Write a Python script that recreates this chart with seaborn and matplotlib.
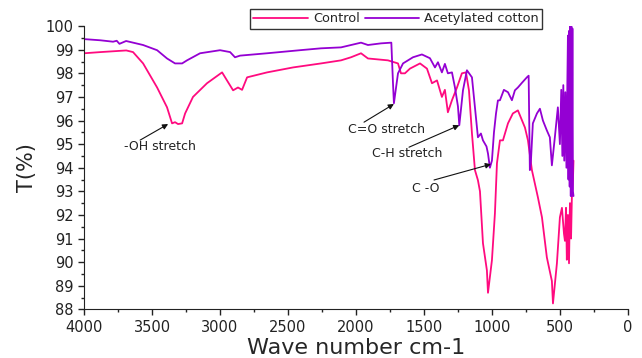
"""
plot.py

FTIR spectra of control and acetylated cotton.
"""

import numpy as np
import pandas as pd
import seaborn as sns
import matplotlib.pyplot as plt
from matplotlib.ticker import MultipleLocator


CONTROL_WN = [4000, 3880, 3690, 3640, 3566, 3463, 3390, 3353, 3331, 3309, 3279,
              3257, 3199, 3096, 2985, 2949, 2904, 2868, 2838, 2801, 2654, 2463,
              2257, 2110, 2037, 1963, 1912, 1765, 1691, 1669, 1640, 1603, 1529,
              1478, 1441, 1404, 1368, 1346, 1324, 1294, 1257, 1221, 1191, 1169,
              1147, 1125, 1103, 1088, 1066, 1037, 1029, 1000, 978, 963, 941, 919,
              882, 846, 809, 757, 735, 706, 662, 632, 596, 559, 551, 522, 500,
              485, 470, 463, 455, 449, 441, 433, 426, 418, 412, 404, 400]
CONTROL_T = [98.85, 98.9, 98.97, 98.9, 98.42, 97.4, 96.56, 95.88, 95.93, 95.85,
             95.88, 96.3, 97.0, 97.58, 98.04, 97.7, 97.28, 97.4, 97.3, 97.83,
             98.04, 98.25, 98.42, 98.55, 98.68, 98.85, 98.63, 98.55, 98.42, 98.0,
             98.0, 98.2, 98.42, 98.2, 97.58, 97.7, 97.0, 97.3, 96.35, 96.86,
             97.4, 98.0, 98.04, 97.28, 95.46, 93.9, 93.47, 93.0, 90.8, 89.65,
             88.7, 90.08, 92.07, 94.19, 95.16, 95.16, 95.88, 96.3, 96.43, 95.7,
             95.16, 93.9, 92.75, 91.9, 90.2, 89.2, 88.25, 89.95, 91.9, 92.3,
             91.2, 90.9, 92.3, 90.1, 92.0, 89.95, 92.5, 91.0, 92.75, 93.5, 94.3]

ACETYL_WN = [4000, 3880, 3787, 3760, 3740, 3691, 3566, 3463, 3390, 3331, 3279,
             3243, 3147, 3000, 2926, 2890, 2853, 2654, 2412, 2257, 2110, 1963,
             1912, 1816, 1740, 1728, 1721, 1710, 1691, 1654, 1581, 1515, 1456,
             1419, 1397, 1368, 1346, 1324, 1294, 1272, 1250, 1240, 1213, 1184,
             1147, 1125, 1103, 1081, 1066, 1040, 1029, 1015, 1000, 985, 970,
             956, 941, 912, 882, 853, 831, 809, 779, 743, 730, 721, 713, 699,
             669, 647, 625, 596, 574, 559, 537, 515, 500, 490, 482, 475, 468,
             460, 452, 445, 441, 437, 432, 428, 424, 420, 416, 412, 408, 404,
             400]
ACETYL_T = [99.45, 99.4, 99.34, 99.38, 99.25, 99.37, 99.2, 98.98, 98.63, 98.42,
            98.42, 98.55, 98.85, 98.98, 98.9, 98.68, 98.75, 98.85, 98.98, 99.06,
            99.1, 99.3, 99.2, 99.27, 99.3, 97.6, 96.73, 97.2, 98.0, 98.42, 98.68,
            98.8, 98.64, 98.25, 98.47, 98.04, 98.4, 98.0, 98.04, 97.4, 96.6,
            95.8, 97.28, 98.13, 97.83, 96.56, 95.29, 95.45, 95.16, 94.9, 94.6,
            94.0, 94.3, 95.5, 96.3, 96.85, 96.86, 97.3, 97.2, 96.86, 97.28, 97.4,
            97.6, 97.83, 97.9, 93.9, 94.3, 95.88, 96.3, 96.5, 96.0, 95.58, 95.29,
            94.1, 95.3, 96.56, 95.0, 97.3, 94.5, 97.5, 94.3, 97.2, 94.0, 97.7,
            99.6, 93.5, 99.8, 93.2, 100.0, 92.8, 100.0, 92.8, 99.9, 93.0, 92.8]

SAMPLES = ["Control", "Acetylated cotton"]
COLORS = {"Control": "#ff0a7f", "Acetylated cotton": "#9400d3"}

# (label, text centre, arrow tail, arrow tip)
ANNOTATIONS = [
    ("-OH stretch", (3441, 94.88), (3588, 95.17), (3382, 95.85)),
    ("C=O stretch", (1779, 95.6), (1941, 95.93), (1721, 96.7)),
    ("C-H stretch", (1625, 94.62), (1610, 94.87), (1240, 95.8)),
    ("C -O", (1485, 93.1), (1426, 93.48), (1007, 94.15)),
]


def main():
    df = pd.concat([
        pd.DataFrame({"wn": CONTROL_WN, "T": CONTROL_T, "sample": "Control"}),
        pd.DataFrame({"wn": ACETYL_WN, "T": ACETYL_T,
                      "sample": "Acetylated cotton"}),
    ])

    sns.set_style("ticks")
    plt.rcParams["font.family"] = ["DejaVu Sans"]

    fig = plt.figure(figsize=(6.42, 3.58), dpi=100)
    ax = fig.add_axes([0.131, 0.136, 0.847, 0.791])

    sns.lineplot(data=df, x="wn", y="T", hue="sample", hue_order=SAMPLES,
                 palette=COLORS, estimator=None, sort=False, linewidth=1.3,
                 ax=ax)

    ax.set_xlim(4000, 0)
    ax.set_ylim(88, 100)
    ax.set_xticks(np.arange(4000, -1, -500))
    ax.set_yticks(np.arange(88, 101, 1))
    ax.xaxis.set_minor_locator(MultipleLocator(250))
    ax.yaxis.set_minor_locator(MultipleLocator(0.5))
    ax.tick_params(which="major", length=4, width=1, labelsize=10.5,
                   colors="#222222")
    ax.tick_params(which="minor", length=2.5, width=1, colors="#222222")
    for side in ("left", "bottom"):
        ax.spines[side].set_color("#222222")
    sns.despine(ax=ax)

    ax.set_xlabel("Wave number cm-1", fontsize=16, labelpad=2)
    ax.set_ylabel("T(%)", fontsize=15, labelpad=6)

    for text, center, tail, tip in ANNOTATIONS:
        ax.text(*center, text, fontsize=9, color="#222222",
                ha="center", va="center")
        ax.annotate("", xy=tip, xytext=tail,
                    arrowprops=dict(arrowstyle="-|>", color="#111111", lw=0.8,
                                    mutation_scale=8, shrinkA=0, shrinkB=0))

    handles, labels = ax.get_legend_handles_labels()
    ax.get_legend().remove()
    leg = fig.legend(handles, labels, loc="center", ncol=2,
                     bbox_to_anchor=(0.617, 0.947), fontsize=9.3,
                     frameon=True, fancybox=False, edgecolor="black",
                     handlelength=4.2, handletextpad=0.4, columnspacing=0.4,
                     borderpad=0.25, borderaxespad=0)
    leg.get_frame().set_linewidth(1)

    fig.savefig("out.png", dpi=100)


if __name__ == "__main__":
    main()
